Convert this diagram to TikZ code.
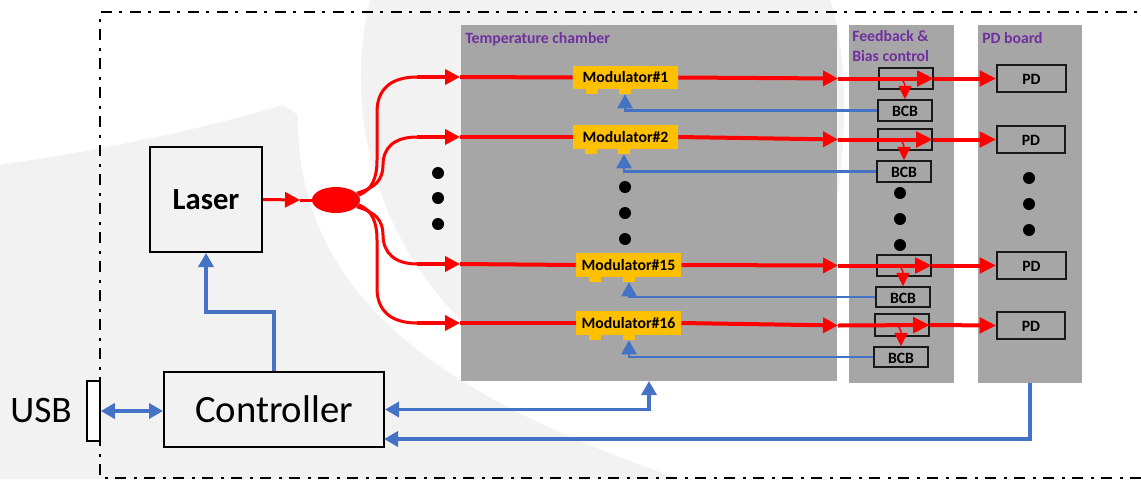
\documentclass[tikz,border=0pt]{standalone}
\usepackage{fontspec}
\setmainfont{Carlito}
\usetikzlibrary{arrows.meta,fit,shapes.geometric}

\definecolor{fiber}{HTML}{FF0000}
\definecolor{ctlblue}{HTML}{4472C4}
\definecolor{labelpurple}{HTML}{7030A0}
\definecolor{panel}{HTML}{A6A6A6}
\definecolor{modfill}{HTML}{FFC000}
\definecolor{wmgrey}{HTML}{F2F2F2}

\tikzset{
  region/.style={fill=panel, draw=none, inner sep=0pt},
  blockbox/.style={draw=black, line width=1.5pt, inner sep=0pt},
  smallbox/.style={draw=black!90, line width=1.2pt, inner sep=0pt},
  smalltext/.style={inner sep=0pt, font=\bfseries\fontsize{11.8}{13}\selectfont},
  modbox/.style={fill=modfill, draw=none, inner sep=0pt},
  modtab/.style={fill=modfill, draw=none, inner sep=0pt},
  paneltitle/.style={text=labelpurple, inner sep=0pt,
    font=\bfseries\fontsize{11.8}{13}\selectfont},
  fibre/.style={draw=fiber, line width=3pt},
  fanline/.style={draw=fiber, line width=2.25pt},
  tapline/.style={draw=fiber, line width=1.1pt},
  ctlthick/.style={draw=ctlblue, line width=2.6pt},
  ctlthin/.style={draw=ctlblue, line width=1.9pt},
  framed/.style={draw=black, line width=1.5pt,
    dash pattern=on 8pt off 5.5pt on 2.25pt off 6pt},
  redhead/.tip={Triangle[length=11.25pt,width=11.25pt]},
  redheadlong/.tip={Triangle[length=12.5pt,width=11.5pt]},
  taphead/.tip={Triangle[length=10pt,width=9.75pt]},
  bluehead/.tip={Triangle[length=10.5pt,width=11.25pt]},
}

\begin{document}
\begin{tikzpicture}[x=0.75pt,y=-0.75pt]
\clip (0,0) rectangle (1141,479);

% faint background artwork
\fill[wmgrey] (0,165) .. controls (100,150) and (200,130) .. (283,105) -- (298,115)
  .. controls (295,300) and (450,400) .. (680,479) -- (0,479) -- cycle;
\fill[wmgrey] (370,0) .. controls (345,100) and (370,230) .. (461,320) -- (700,320)
  -- (837,200) .. controls (845,150) and (850,60) .. (830,0) -- cycle;

% enclosure outline
\draw[framed] (1141,478) -- (100,478) -- (100,12) -- (1141,12);

% panels
\node[region, fit={(461,25) (837,381)}] (chamber) {};
\node[region, fit={(849,25) (954,383)}] (fbc) {};
\node[region, fit={(978,25) (1082,383)}] (pdb) {};
\node[paneltitle, anchor=base west] (chtitle) at (465,43) {Temperature chamber};
\node[paneltitle, anchor=base west] (fbtitle1) at (852,41) {Feedback \&};
\node[paneltitle, anchor=base west] (fbtitle2) at (852,61) {Bias control};
\node[paneltitle, anchor=base west] (pdtitle) at (982,43) {PD board};

% laser, controller, USB
\node[blockbox, fit={(150,147) (262,252)}] (laser) {};
\node[inner sep=0pt, font=\bfseries\fontsize{23}{27}\selectfont] (laser-text) at (laser.center) {Laser};
\node[blockbox, fit={(164,372) (384,447)}] (ctrl) {};
\node[inner sep=0pt, font=\fontsize{29}{34}\selectfont] (ctrl-text) at (ctrl.center) {Controller};
\node[draw=black, line width=1.2pt, fill=white, inner sep=0pt, fit={(87,381) (100,441)}] (usbport) {};
\node[inner sep=0pt, font=\fontsize{28}{33}\selectfont] (usbtext) at (41,411) {USB};

% splitter
\node[ellipse, fill=fiber, minimum width=36pt, minimum height=19.5pt, inner sep=0pt] (sp) at (336,200) {};

% modulators with their bottom tabs
\node[modbox, fit={(573,66) (678,89)}] (m1) {};
\node[modtab, fit={(586,89) (598,94)}] (m1-a) {};
\node[modtab, fit={(619,89) (631,94)}] (m1-b) {};
\node[modbox, fit={(573,125) (678,149)}] (m2) {};
\node[modtab, fit={(585,149) (597,154)}] (m2-a) {};
\node[modtab, fit={(618,149) (630,154)}] (m2-b) {};
\node[modbox, fit={(576,253) (681,277)}] (m15) {};
\node[modtab, fit={(589,277) (601,282)}] (m15-a) {};
\node[modtab, fit={(623,277) (635,282)}] (m15-b) {};
\node[modbox, fit={(576,311) (681,335)}] (m16) {};
\node[modtab, fit={(589,335) (601,340)}] (m16-a) {};
\node[modtab, fit={(623,335) (635,340)}] (m16-b) {};
\foreach \i in {1,2,15,16}
  \node[smalltext] (m\i-text) at (m\i.center) {Modulator\#\i};

% taps, bias control boards and photodiodes
\node[smallbox, fit={(879,68) (933,89)}] (t1) {};
\node[smallbox, fit={(878,129) (932,150)}] (t2) {};
\node[smallbox, fit={(877,255) (931,276)}] (t15) {};
\node[smallbox, fit={(875,314) (929,336)}] (t16) {};
\node[smallbox, fit={(878,100) (932,121)}] (b1) {};
\node[smallbox, fit={(877,161) (931,182)}] (b2) {};
\node[smallbox, fit={(876,287) (930,307)}] (b15) {};
\node[smallbox, fit={(874,347) (928,367)}] (b16) {};
\node[smallbox, fit={(997,65) (1066,92)}] (p1) {};
\node[smallbox, fit={(997,126) (1065,153)}] (p2) {};
\node[smallbox, fit={(997,252) (1066,279)}] (p15) {};
\node[smallbox, fit={(997,312) (1065,339)}] (p16) {};
\foreach \i in {1,2,15,16} {
  \node[smalltext] (b\i-text) at ([yshift=-1pt]b\i.center) {BCB};
  \node[smalltext] (p\i-text) at ([yshift=-1pt]p\i.center) {PD};
}

% laser into splitter
\coordinate (ltip) at (300,200);
\draw[fanline, -{redhead}] (laser.east) -- (ltip);
\draw[fanline] (ltip) -- (sp.west);

% fan-out from the splitter
\coordinate (f1) at (417,77);
\coordinate (f2) at (417,137);
\coordinate (f15) at (417,264);
\coordinate (f16) at (417,323);
\draw[fanline] (sp.12) .. controls (372,190) and (377,178) .. (377,160) -- (377,112)
  .. controls (377,90) and (390,77) .. (f1);
\draw[fanline] (sp.18) .. controls (375,188) and (383,180) .. (383,165)
  .. controls (383,147) and (395,137) .. (f2);
\draw[fanline] (sp.-18) .. controls (375,212) and (383,220) .. (383,235)
  .. controls (383,253) and (395,264) .. (f15);
\draw[fanline] (sp.-12) .. controls (372,210) and (377,222) .. (377,240) -- (377,288)
  .. controls (377,310) and (390,323) .. (f16);

% optical channels
\foreach \i/\yin/\yout in {1/77/78.5, 2/137/139.5, 15/264/265.5, 16/323/325.5} {
  \coordinate (a\i) at (460,\yin);
  \coordinate (g\i) at (838,\yout);
  \draw[fibre, -{redhead}] (f\i) -- (a\i);
  \draw[fibre] (a\i) -- (m\i.west);
  \draw[fibre, -{redhead}] (m\i.east) -- (g\i);
  \draw[fibre, -{redheadlong}] (g\i) -- (t\i.east);
  \draw[fibre, -{redheadlong}] (t\i.east) -- (p\i.west);
  \draw[tapline, -{taphead}] ([xshift=-6pt]t\i.center) to[out=0,in=90] (b\i.north);
  \draw[ctlthin, -{bluehead}] (b\i.west) -| (m\i-b.south);
}

% electrical control
\coordinate (bend) at (274,312);
\draw[ctlthick, -{bluehead}] (ctrl.north) -- (bend) -| (laser.south);
\draw[ctlthick, {bluehead}-{bluehead}] (usbport.east) -- (usbport.east -| ctrl.west);
\coordinate (chin) at (649,381);
\draw[ctlthick, {bluehead}-{bluehead}] (ctrl.east) -| (chin);
\coordinate (ctrlin) at (384,439);
\draw[ctlthick, -{bluehead}] (pdb.south) |- (ctrlin);

% ellipsis dots
\foreach \y in {173,198,224} \fill (438,\y) circle[radius=4.5pt];
\foreach \y in {187,213,239} \fill (625,\y) circle[radius=4.5pt];
\foreach \y in {193,219,245} \fill (900,\y) circle[radius=4.5pt];
\foreach \y in {178,204,230} \fill (1029,\y) circle[radius=4.5pt];
\end{tikzpicture}
\end{document}
